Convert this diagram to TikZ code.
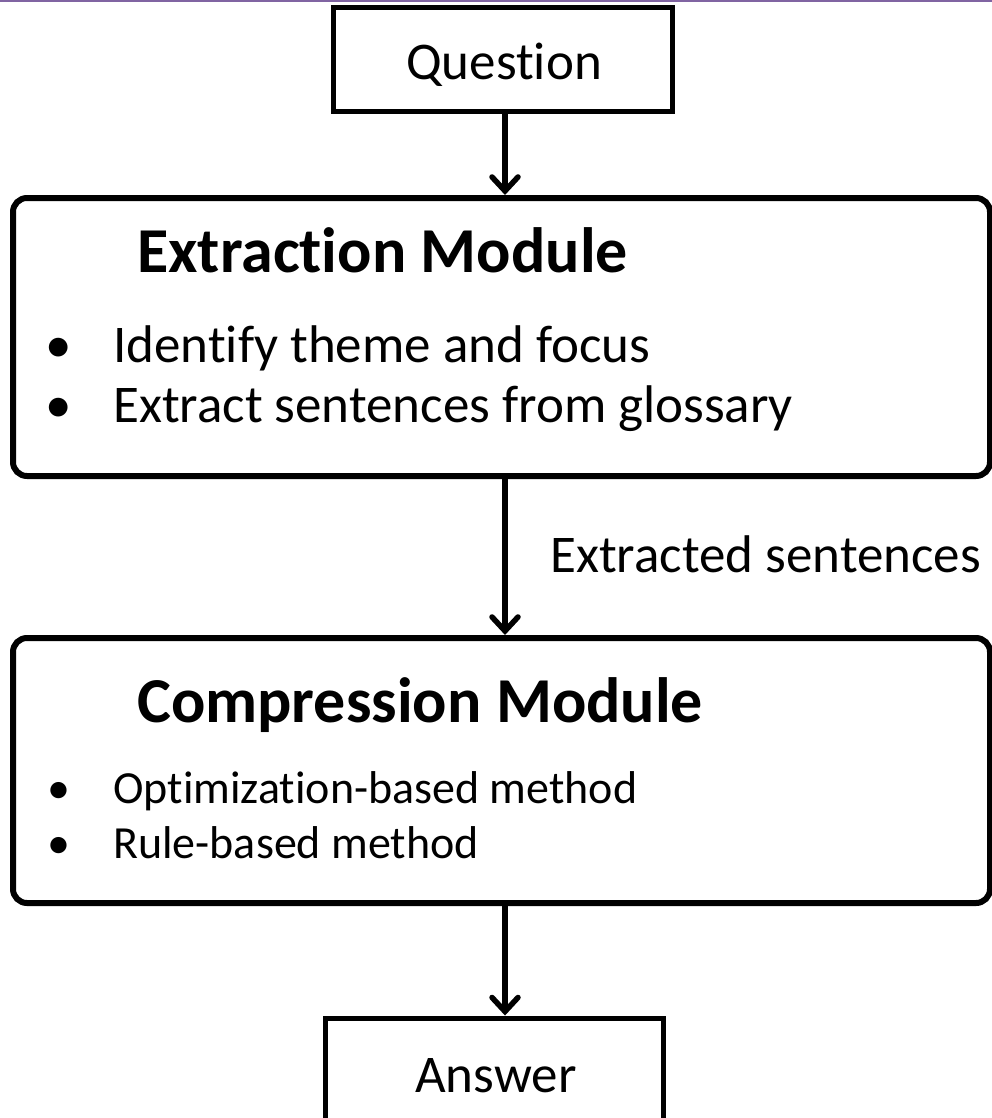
\documentclass[tikz,border=0pt]{standalone}
\usepackage{fontspec}
\setmainfont{Carlito}[Ligatures=NoCommon]
\usetikzlibrary{arrows.meta,shadows}
\definecolor{topline}{HTML}{8064A2}
\tikzset{
  box/.style={draw,fill=white,line width=5pt,inner sep=0pt,
    drop shadow={shadow xshift=1.5pt,shadow yshift=-2pt,opacity=0.35}},
  module/.style={box,line width=6pt,rounded corners=14pt,minimum width=977pt},
  plain/.style={anchor=base west,inner sep=0pt},
  arr/.style={line width=5.5pt,-{Straight Barb[length=14pt,width=26pt,line cap=round]}}
}
\newcommand{\bodysize}{\fontsize{53}{60}\selectfont}
\newcommand{\headsize}{\fontsize{64}{70}\selectfont\bfseries}
\newcommand{\itemsize}{\fontsize{46}{52}\selectfont}
\begin{document}
\begin{tikzpicture}[x=1pt,y=-1pt]
      \useasboundingbox (0,0) rectangle (992,1118);
      \fill[topline] (0,0) rectangle (992,2);
      \draw
        (502.5,60) node[box,minimum width=339pt,minimum height=104pt] (question){}
        (501.5,337) node[module,minimum height=278pt] (extract){}
        (501.5,770.5) node[module,minimum height=265pt] (compress){}
        (494,1083) node[box,minimum width=338pt,minimum height=130pt] (answer){};
      \draw
        (406,80) node[plain] (qtext){\bodysize Question}
        (137,272) node[plain] (etitle){\headsize Extraction Module}
        (59,362) node[plain,anchor=base] (eb1){\bodysize •}
        (113,362) node[plain] (e1){\bodysize Identify theme and focus}
        (59,422) node[plain,anchor=base] (eb2){\bodysize •}
        (113,422) node[plain] (e2){\bodysize Extract sentences from glossary}
        (550,572) node[plain] (mid){\bodysize Extracted sentences}
        (137,722) node[plain] (ctitle){\headsize Compression Module}
        (59,803) node[plain,anchor=base] (cb1){\itemsize •}
        (113,803) node[plain] (c1){\itemsize Optimization-based method}
        (59,858) node[plain,anchor=base] (cb2){\itemsize •}
        (113,858) node[plain] (c2){\itemsize Rule-based method}
        (415,1092) node[plain] (atext){\bodysize Answer};
      \coordinate (stem) at (505,0);
      \begin{scope}[arr]
        \draw (stem |- question.south) to (stem |- extract.north);
        \draw (stem |- extract.south) to (stem |- compress.north);
        \draw (stem |- compress.south) to (stem |- answer.north);
      \end{scope}
    \end{tikzpicture}
\end{document}
